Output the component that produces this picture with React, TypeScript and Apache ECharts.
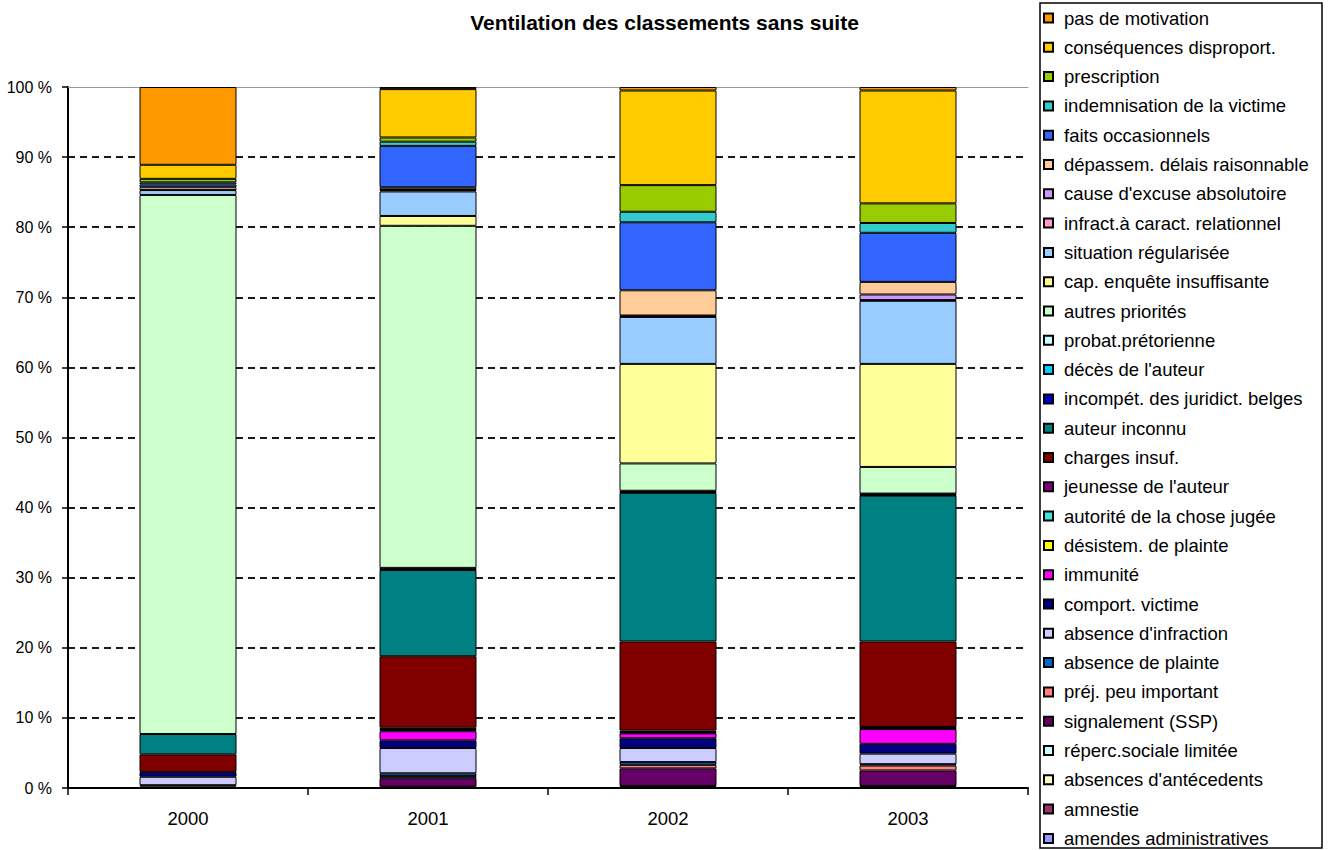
import React, { useEffect, useRef } from "react";
import * as echarts from "echarts";

// Years shown on the category axis
const years = ["2000", "2001", "2002", "2003"];

// Reasons for dismissal, listed from the bottom of each stack to the top
const motifs = [
  "amendes administratives",
  "amnestie",
  "absences d'antécedents",
  "réperc.sociale limitée",
  "signalement (SSP)",
  "préj. peu important",
  "absence de plainte",
  "absence d'infraction",
  "comport. victime",
  "immunité",
  "désistem. de plainte",
  "autorité de la chose jugée",
  "jeunesse de l'auteur",
  "charges insuf.",
  "auteur inconnu",
  "incompét. des juridict. belges",
  "décès de l'auteur",
  "probat.prétorienne",
  "autres priorités",
  "cap. enquête insuffisante",
  "situation régularisée",
  "infract.à caract. relationnel",
  "cause d'excuse absolutoire",
  "dépassem. délais raisonnable",
  "faits occasionnels",
  "indemnisation de la victime",
  "prescription",
  "conséquences disproport.",
  "pas de motivation",
];

// Share of each reason (in %), same order as motifs
const share2000 = [0.2, 0, 0, 0, 0.2, 0, 0, 1.2, 0.7, 0, 0, 0, 0, 2.5, 2.9, 0, 0, 0, 76.9, 0, 0.7, 0, 0, 0.4, 0.4, 0.3, 0.5, 2.0, 11.1];
const share2001 = [0.1, 0.1, 0, 0, 1.2, 0.3, 0.4, 3.6, 1.1, 1.3, 0.2, 0.1, 0.2, 10.2, 12.3, 0.1, 0.1, 0.1, 48.8, 1.4, 3.5, 0.2, 0.1, 0.3, 5.9, 0.6, 0.6, 6.9, 0.3];
const share2002 = [0.1, 0.2, 0, 0, 2.5, 0.5, 0.4, 2.0, 1.4, 0.7, 0.1, 0.1, 0.2, 12.7, 21.2, 0.1, 0.1, 0.1, 3.9, 14.2, 6.7, 0.1, 0.1, 3.6, 9.7, 1.5, 3.8, 13.5, 0.5];
const share2003 = [0.1, 0.2, 0, 0, 2.2, 0.7, 0.2, 1.5, 1.4, 2.1, 0.1, 0.1, 0.1, 12.2, 20.8, 0.1, 0.1, 0.1, 3.8, 14.7, 9.0, 0.1, 0.8, 1.8, 7.0, 1.4, 2.8, 16.1, 0.5];

// Fill colour of each reason, same order as motifs
const motifColors = [
  "#9999FF", "#993366", "#FFFFCC", "#CCFFFF", "#660066", "#FF8080", "#0066CC",
  "#CCCCFF", "#000080", "#FF00FF", "#FFFF00", "#40E0E0", "#800080", "#800000",
  "#008080", "#0000CC", "#00CCFF", "#CCFFFF", "#CCFFCC", "#FFFF99", "#99CCFF",
  "#FF99CC", "#CC99FF", "#FFCC99", "#3366FF", "#33CCCC", "#99CC00", "#FFCC00",
  "#FF9900",
];

const FONT = "Liberation Sans, Arial, sans-serif";

export default function App() {
  const ref = useRef<HTMLDivElement>(null);

  useEffect(() => {
    if (!ref.current) return;
    const chart = echarts.init(ref.current, null, { renderer: "svg" });
    const shares = [share2000, share2001, share2002, share2003];

    const series = motifs.map((name, i) => ({
      name,
      type: "bar",
      stack: "total",
      barWidth: 97,
      data: shares.map((s) => (s[i] > 0 ? s[i] : null)),
      itemStyle: { color: motifColors[i], borderColor: "#000", borderWidth: 1 },
      emphasis: { disabled: true },
    }));

    chart.setOption({
      animation: false,
      backgroundColor: "#fff",
      textStyle: { fontFamily: FONT },
      title: {
        text: "Ventilation des classements sans suite",
        left: "center",
        top: 7,
        textStyle: { fontSize: 21, fontWeight: "bold", color: "#000", fontFamily: FONT },
      },
      grid: { left: 68, right: 301, top: 87, bottom: 62 },
      xAxis: [
        {
          type: "category",
          data: years,
          axisLine: { lineStyle: { color: "#000", width: 2 } },
          axisTick: { show: true, length: 7, lineStyle: { color: "#000", width: 1.5 } },
          axisLabel: { fontSize: 18.5, color: "#000", margin: 21, fontFamily: FONT },
          splitLine: { show: false },
        },
        {
          type: "category",
          position: "top",
          data: years,
          axisLine: { show: true, lineStyle: { color: "#999", width: 1 } },
          axisTick: { show: false },
          axisLabel: { show: false },
          splitLine: { show: false },
        },
      ],
      yAxis: {
        type: "value",
        min: 0,
        max: 100,
        interval: 10,
        axisLine: { show: true, lineStyle: { color: "#000", width: 2 } },
        axisTick: { show: true, length: 6, lineStyle: { color: "#000", width: 1.5 } },
        axisLabel: { formatter: "{value} %", fontSize: 16, color: "#000", margin: 16, fontFamily: FONT },
        splitLine: {
          show: true,
          showMaxLine: false,
          lineStyle: { color: "#1a1a1a", width: 2, type: [7, 5] },
        },
      },
      legend: {
        orient: "vertical",
        left: 1043,
        top: 8,
        padding: 0,
        itemWidth: 9,
        itemHeight: 9,
        itemGap: 9.3,
        icon: "rect",
        selectedMode: false,
        data: [...motifs].reverse(),
        textStyle: { fontSize: 18.5, lineHeight: 20, color: "#000", fontFamily: FONT, padding: [0, 0, 0, 6] },
      },
      graphic: [
        {
          type: "rect",
          silent: true,
          shape: { x: 1040, y: 3, width: 282, height: 845 },
          style: { fill: "none", stroke: "#000", lineWidth: 1.5 },
        },
      ],
      series,
    });

    return () => chart.dispose();
  }, []);

  return (
    <div
      ref={ref}
      style={{ position: "fixed", left: 0, top: 0, width: 1329, height: 850, background: "#fff" }}
    />
  );
}
